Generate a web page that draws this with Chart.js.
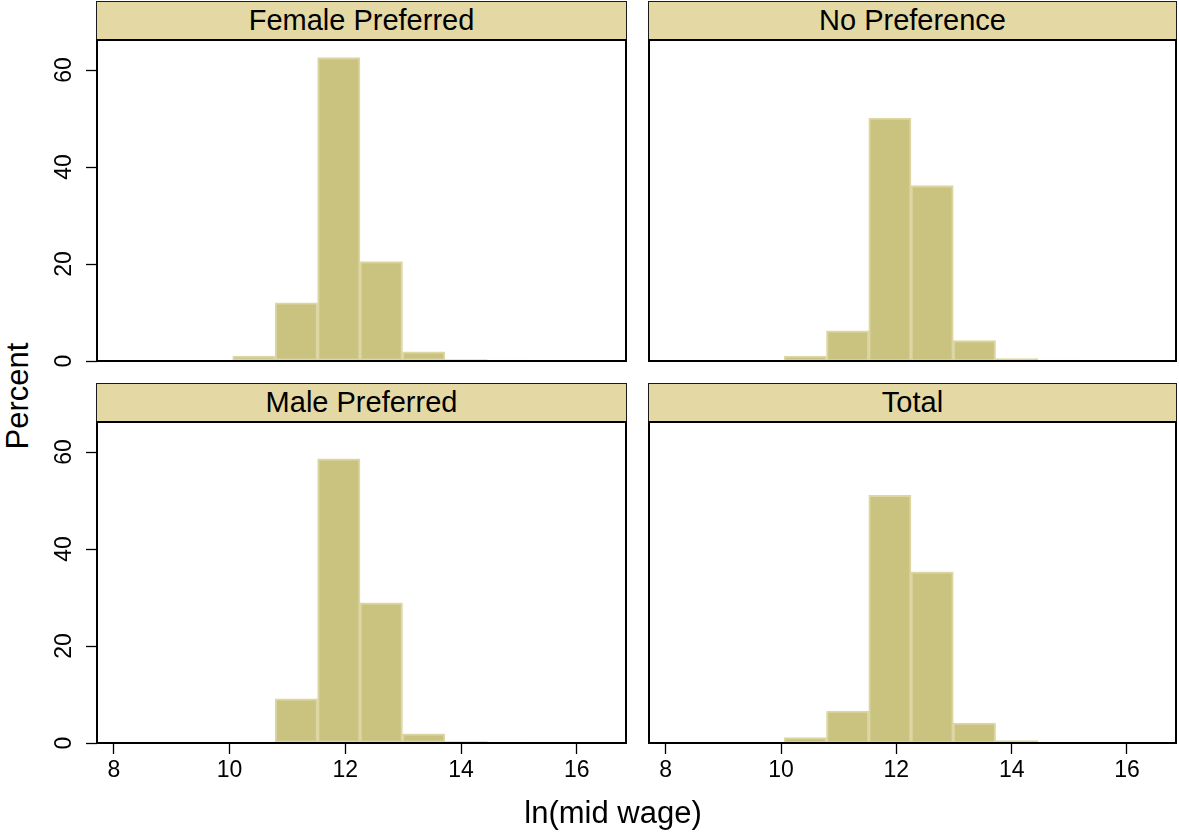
<!DOCTYPE html>
<html>
<head>
<meta charset="utf-8">
<script src="https://cdn.jsdelivr.net/npm/chart.js@4"></script>
<style>
  body { margin: 0; background: #fff; width: 1179px; height: 833px; position: relative; overflow: hidden; font-family: 'Liberation Sans', Arial, sans-serif; }
  canvas { position: absolute; }
  .strip { position: absolute; box-sizing: border-box; height: 40px; background: #e4d9a5; border: 1.5px solid #1a1a1a; color: #000; font-size: 29px; text-align: center; line-height: 37px; }
  .axtitle { position: absolute; color: #000; font-size: 31px; white-space: nowrap; }
</style>
</head>
<body>
<div class="strip" style="left:96px; top:1px; width:531px;">Female Preferred</div>
<div class="strip" style="left:648px; top:1px; width:529px;">No Preference</div>
<div class="strip" style="left:96px; top:383px; width:531px;">Male Preferred</div>
<div class="strip" style="left:648px; top:383px; width:529px;">Total</div>
<canvas id="c1" width="600" height="375" style="left:40px; top:0px;"></canvas>
<canvas id="c2" width="539" height="375" style="left:640px; top:0px;"></canvas>
<canvas id="c3" width="600" height="420" style="left:40px; top:380px;"></canvas>
<canvas id="c4" width="539" height="420" style="left:640px; top:380px;"></canvas>
<div class="axtitle" style="left:18px; top:396px; transform: translate(-50%,-50%) rotate(-90deg);">Percent</div>
<div class="axtitle" style="left:613px; top:813px; transform: translate(-50%,-50%);">ln(mid wage)</div>
<script>
'use strict';
//Global Variables
// bin centres of ln(mid wage), width about 0.733
const binCenters = [9.689, 10.422, 11.155, 11.888, 12.621, 13.354, 14.087, 14.820, 15.553, 16.286];
const femalePreferred = [0, 1.0, 12.0, 62.6, 20.5, 1.9, 0.3, 0.2, 0.1, 0.1];
const noPreference = [0.1, 1.0, 6.2, 50.1, 36.2, 4.2, 0.5, 0.2, 0.1, 0.1];
const malePreferred = [0, 0.2, 9.1, 58.6, 28.9, 1.9, 0.3, 0.2, 0.1, 0];
const total = [0.05, 1.1, 6.6, 51.1, 35.3, 4.1, 0.5, 0.2, 0.1, 0.1];
const xTicks = [8, 10, 12, 14, 16];
const yTicks = [0, 20, 40, 60];
const xMin = 7.71;
const xMax = 16.85;
const yMax = 66.2;

const barFill = '#cac380';
const barEdge = '#dbd6a2';
const fontFamily = "'Liberation Sans', Arial, sans-serif";

//Plugins
const framePlugin = {
  id: 'frame',
  afterDatasetsDraw(chart){
    const a = chart.chartArea;
    const ctx = chart.ctx;
    ctx.save();
    ctx.strokeStyle = '#000';
    ctx.lineWidth = 2;
    ctx.strokeRect(a.left, a.top, a.right - a.left, a.bottom - a.top);
    ctx.restore();
  }
};

//functions
function makePanel(id, values, showY, showX, padding){
  const points = [];
  for(let i = 0; i < binCenters.length; i++){
    points.push({x: binCenters[i], y: values[i]});
  }
  return new Chart(document.getElementById(id), {
    type: 'bar',
    data: {
      datasets: [{
        data: points,
        backgroundColor: barFill,
        borderColor: barEdge,
        borderWidth: 2,
        borderSkipped: false,
        barPercentage: 1,
        categoryPercentage: 1
      }]
    },
    options: {
      responsive: false,
      animation: false,
      layout: {padding: padding},
      plugins: {legend: {display: false}, tooltip: {enabled: false}},
      scales: {
        x: {
          type: 'linear',
          min: xMin,
          max: xMax,
          offset: false,
          display: showX,
          afterBuildTicks: (s) => { s.ticks = xTicks.map(v => ({value: v})); },
          afterFit: (s) => { s.height = showX ? 57 : 0; },
          grid: {offset: false, drawOnChartArea: false, tickLength: 11, tickColor: '#000', tickWidth: 1.3},
          border: {display: false},
          ticks: {color: '#000', padding: 3, font: {family: fontFamily, size: 23}}
        },
        y: {
          min: 0,
          max: yMax,
          display: showY,
          afterBuildTicks: (s) => { s.ticks = yTicks.map(v => ({value: v})); },
          afterFit: (s) => {
            s.width = showY ? 57 : 0;
            s.paddingTop = 0;
            s.paddingBottom = 0;
          },
          grid: {drawOnChartArea: false, tickLength: 11, tickColor: '#000', tickWidth: 1.3},
          border: {display: false},
          ticks: {color: '#000', padding: 9, minRotation: 90, maxRotation: 90, crossAlign: 'center', font: {family: fontFamily, size: 23}}
        }
      }
    },
    plugins: [framePlugin]
  });
}

//Function Calls
makePanel('c1', femalePreferred, true, false, {left: 0, right: 14, top: 40, bottom: 14});
makePanel('c2', noPreference, false, false, {left: 9, right: 3, top: 40, bottom: 14});
makePanel('c3', malePreferred, true, true, {left: 0, right: 14, top: 42, bottom: 0});
makePanel('c4', total, false, true, {left: 9, right: 3, top: 42, bottom: 0});
</script>
</body>
</html>
